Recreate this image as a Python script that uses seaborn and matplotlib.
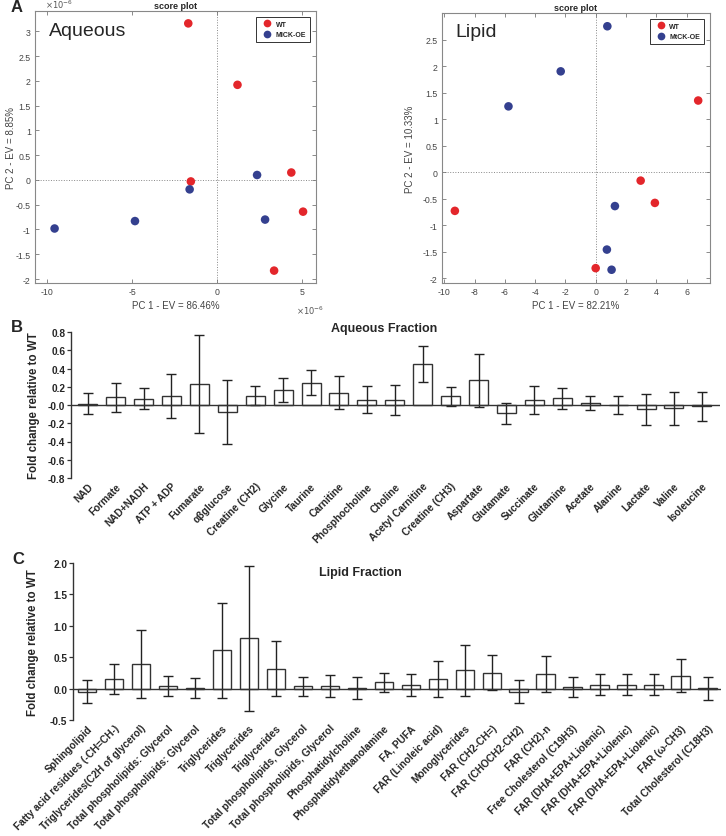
import numpy as np
import pandas as pd
import seaborn as sns
import matplotlib
matplotlib.use("Agg")
import matplotlib.pyplot as plt

sns.set_style("ticks")
plt.rcParams['font.family'] = ['Liberation Sans', 'DejaVu Sans']
plt.rcParams['axes.unicode_minus'] = False

# ---- Panel A: PCA score plots (values in units of 1e-6 for aqueous) ----
aq_wt_pc1 = [-1.70, 1.19, -1.55, 4.35, 5.04, 3.34]
aq_wt_pc2 = [3.16, 1.92, -0.03, 0.15, -0.64, -1.83]
aq_oe_pc1 = [-9.55, -4.83, -1.62, 2.34, 2.81]
aq_oe_pc2 = [-0.98, -0.83, -0.19, 0.10, -0.80]

lp_wt_pc1 = [-9.30, 0.0, 2.97, 3.91, 6.77]
lp_wt_pc2 = [-0.73, -1.81, -0.16, -0.58, 1.35]
lp_oe_pc1 = [0.77, -2.31, -5.76, 1.27, 0.74, 1.05]
lp_oe_pc2 = [2.75, 1.90, 1.24, -0.64, -1.46, -1.84]

# ---- Panel B: aqueous fraction ----
aq_names = ["NAD", "Formate", "NAD+NADH", "ATP + ADP", "Fumarate", "αβglucose",
            "Creatine (CH2)", "Glycine", "Taurine", "Carnitine", "Phosphocholine",
            "Choline", "Acetyl Carnitine", "Creatine (CH3)", "Aspartate", "Glutamate",
            "Succinate", "Glutamine", "Acetate", "Alanine", "Lactate", "Valine",
            "Isoleucine"]
aq_mean = [0.015, 0.085, 0.07, 0.095, 0.23, -0.08, 0.104, 0.165, 0.243, 0.135, 0.06,
           0.055, 0.452, 0.095, 0.27, -0.09, 0.056, 0.075, 0.024, 0.0, -0.045,
           -0.037, -0.016]
aq_err = [0.115, 0.16, 0.112, 0.24, 0.535, 0.35, 0.104, 0.13, 0.137, 0.178, 0.147,
          0.167, 0.2, 0.105, 0.29, 0.116, 0.155, 0.115, 0.074, 0.104, 0.17, 0.18,
          0.155]

# ---- Panel C: lipid fraction ----
lp_names = ["Sphingolipid", "Fatty acid residues (-CH=CH-)", "Triglycerides(C2H of glycerol)",
            "Total phospholipids: Glycerol", "Total phospholipids: Glycerol",
            "Triglycerides", "Triglycerides", "Triglycerides",
            "Total phospholipids, Glycerol", "Total phospholipids, Glycerol",
            "Phosphatidylcholine", "Phosphatidylethanolamine", "FA, PUFA",
            "FAR (Linoleic acid)", "Monoglycerides", "FAR (CH2-CH=)", "FAR (CHOCH2-CH2)",
            "FAR (CH2)-n", "Free Cholesterol (C19H3)", "FAR (DHA+EPA+Liolenic)",
            "FAR (DHA+EPA+Liolenic)", "FAR (DHA+EPA+Liolenic)", "FAR (ω-CH3)",
            "Total Cholesterol (C18H3)"]
lp_mean = [-0.05, 0.15, 0.395, 0.035, 0.01, 0.61, 0.80, 0.32, 0.035, 0.04, 0.01, 0.10,
           0.058, 0.15, 0.29, 0.255, -0.05, 0.23, 0.03, 0.065, 0.065, 0.065, 0.205, 0.005]
lp_err = [0.18, 0.24, 0.545, 0.16, 0.165, 0.76, 1.16, 0.445, 0.155, 0.17, 0.175, 0.15,
          0.175, 0.285, 0.405, 0.275, 0.185, 0.285, 0.162, 0.163, 0.17, 0.163, 0.265, 0.186]

RED = "#e3262b"
BLUE = "#34408f"
W, H = 726, 837

fig = plt.figure(figsize=(W / 100, H / 100), dpi=100)


def px_axes(x0, y0, x1, y1):
    # axes from pixel box (top-left origin)
    return fig.add_axes([x0 / W, 1 - y1 / H, (x1 - x0) / W, (y1 - y0) / H])


def score_plot(ax, wt_x, wt_y, oe_x, oe_y, oe_label, name, xlab, ylab):
    df = pd.DataFrame({
        "pc1": list(wt_x) + list(oe_x),
        "pc2": list(wt_y) + list(oe_y),
        "group": ["WT"] * len(wt_x) + [oe_label] * len(oe_x),
    })
    ax.axhline(0, color="#888888", ls=":", lw=0.7, zorder=0)
    ax.axvline(0, color="#888888", ls=":", lw=0.7, zorder=0)
    sns.scatterplot(data=df, x="pc1", y="pc2", hue="group",
                    palette={"WT": RED, oe_label: BLUE}, s=38, edgecolor="none",
                    ax=ax, zorder=3)
    leg = ax.legend(loc="upper right", fontsize=5, frameon=True, fancybox=False,
                    edgecolor="black", borderpad=0.6, handletextpad=0.2,
                    markerscale=0.9, borderaxespad=0.8)
    leg.get_frame().set_linewidth(0.7)
    for t in leg.get_texts():
        t.set_fontweight("bold")
    ax.tick_params(direction="in", top=True, right=True, length=3, width=0.6,
                   color="#777777", labelcolor="#444444", labelsize=6.3, pad=3)
    for sp in ax.spines.values():
        sp.set_color("#888888")
        sp.set_linewidth(0.8)
    ax.set_xlabel(xlab, fontsize=7, color="#444444", labelpad=3)
    ax.set_ylabel(ylab, fontsize=7, color="#444444")
    ax.set_title("score plot", fontsize=6.5, fontweight="bold", pad=2)
    ax.text(0.05, 0.93, name, transform=ax.transAxes, fontsize=14, va="center", ha="left")


ax1 = px_axes(35, 12, 316, 284)
score_plot(ax1, aq_wt_pc1, aq_wt_pc2, aq_oe_pc1, aq_oe_pc2, "MICK-OE", "Aqueous",
           "PC 1 - EV = 86.46%", "PC 2 - EV = 8.85%")
ax1.set_xlim(-10.7, 5.8)
ax1.set_ylim(-2.08, 3.41)
ax1.set_xticks([-10, -5, 0, 5])
ax1.set_yticks(np.arange(-2, 3.01, 0.5))
ax1.set_yticklabels(["%g" % v for v in np.arange(-2, 3.01, 0.5)])
ax1.yaxis.set_label_coords(-0.068, 0.5)
fig.text(45 / W, 1 - 5 / H, r"$\times10^{-6}$", fontsize=6, color="#555555", va="center")
fig.text(296 / W, 1 - 311 / H, r"$\times10^{-6}$", fontsize=6, color="#555555", va="center")

ax2 = px_axes(442, 14, 710, 284)
score_plot(ax2, lp_wt_pc1, lp_wt_pc2, lp_oe_pc1, lp_oe_pc2, "MtCK-OE", "Lipid",
           "PC 1 - EV = 82.21%", "PC 2 - EV = 10.33%")
ax2.set_xlim(-10.15, 7.55)
ax2.set_ylim(-2.09, 3.0)
ax2.set_xticks(np.arange(-10, 7, 2))
ax2.set_yticks(np.arange(-2, 2.51, 0.5))
ax2.set_yticklabels(["%g" % v for v in np.arange(-2, 2.51, 0.5)])
ax2.yaxis.set_label_coords(-0.10, 0.5)


def fold_bars(ax, names, means, errs, yticks, ylabels, xlim, title, title_xy):
    df = pd.DataFrame({"name": [f"{i}" for i in range(len(names))], "val": means})
    sns.barplot(data=df, x="name", y="val", color="white", edgecolor="#333333",
                linewidth=1, width=0.68, ax=ax, errorbar=None, zorder=2)
    ax.errorbar(np.arange(len(names)), means, yerr=errs, fmt="none", ecolor="#222222",
                elinewidth=1, capsize=3.5, capthick=1, zorder=3)
    ax.axhline(0, color="#333333", lw=1, zorder=4)
    ax.set_xlim(*xlim)
    ax.set_ylim(yticks[0], yticks[-1])
    ax.set_yticks(yticks)
    ax.set_yticklabels(ylabels, fontsize=7.3, fontweight="bold")
    ax.set_xticks(np.arange(len(names)))
    ax.set_xticklabels(names, rotation=45, ha="right", va="top", rotation_mode="anchor",
                       fontsize=7.3, fontweight="bold")
    ax.tick_params(axis="x", length=0, pad=2)
    ax.tick_params(axis="y", length=3, width=0.9, color="#333333", pad=1)
    for s in ["top", "right", "bottom"]:
        ax.spines[s].set_visible(False)
    ax.spines["left"].set_color("#333333")
    ax.spines["left"].set_linewidth(1)
    ax.set_xlabel("")
    ax.set_ylabel("Fold change relative to WT", fontsize=8.3, fontweight="bold")
    fig.text(title_xy[0] / W, 1 - title_xy[1] / H, title, fontsize=9, fontweight="bold",
             ha="center", va="center")


ax3 = px_axes(71, 333, 720, 479)
fold_bars(ax3, aq_names, aq_mean, aq_err, [-0.8, -0.6, -0.4, -0.2, 0.0, 0.2, 0.4, 0.6, 0.8],
          ["-0.8", "-0.6", "-0.4", "-0.2", "-0.0", "0.2", "0.4", "0.6", "0.8"],
          (-0.6, 22.65), "Aqueous Fraction", (384, 329))
ax3.yaxis.set_label_coords(-0.048, 0.5)

ax4 = px_axes(73, 564, 721, 721)
fold_bars(ax4, lp_names, lp_mean, lp_err, [-0.5, 0.0, 0.5, 1.0, 1.5, 2.0],
          ["-0.5", "0.0", "0.5", "1.0", "1.5", "2.0"],
          (-0.52, 23.5), "Lipid Fraction", (360, 573))
ax4.yaxis.set_label_coords(-0.053, 0.5)

for letter, (x, y) in {"A": (17, 8), "B": (17, 328), "C": (18, 560)}.items():
    fig.text(x / W, 1 - y / H, letter, fontsize=12, fontweight="bold", ha="center", va="center")

fig.savefig("out.png", dpi=100)
